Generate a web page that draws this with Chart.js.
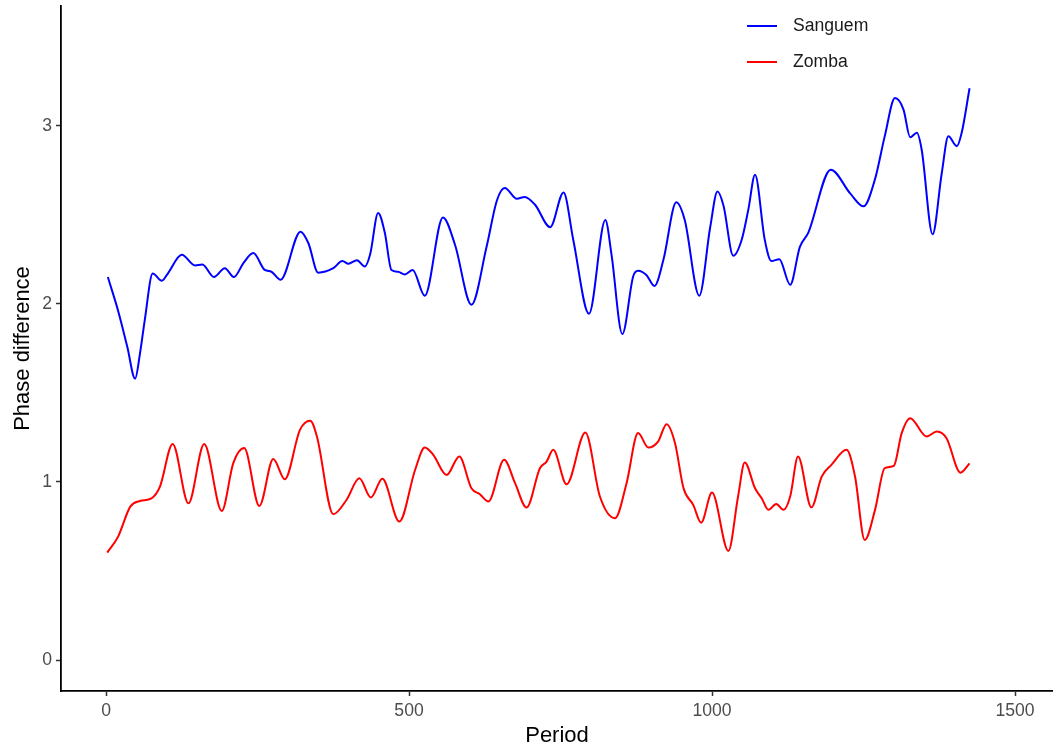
<!DOCTYPE html>
<html>
<head>
<meta charset="utf-8">
<script src="https://cdn.jsdelivr.net/npm/chart.js@4"></script>
<style>
  body { margin: 0; background: #fff; }
  #wrap { width: 1053px; height: 751px; position: relative; }
</style>
</head>
<body>
<div id="wrap"><canvas id="chart"></canvas></div>
<script>
// Series
const sanguemX = [3, 20, 35, 48, 56, 64, 77, 92, 102, 125, 147, 159, 178, 196, 211, 227, 243, 262, 273, 288,
    321, 334, 350, 375, 390, 400, 414, 427, 436, 449, 460, 471, 482, 493, 506, 526, 556, 576, 603, 628,
    645, 658, 678, 691, 708, 733, 755, 771, 797, 824, 834, 852, 870, 878, 892, 905, 920, 941, 955, 979,
    997, 1009, 1019, 1035, 1049, 1060, 1071, 1087, 1098, 1111, 1129, 1145, 1159, 1196, 1228, 1250, 1269, 1285, 1302, 1316,
    1327, 1338, 1346, 1364, 1379, 1390, 1404, 1412, 1425];
const sanguemY = [2.15, 1.96, 1.76, 1.58, 1.72, 1.91, 2.17, 2.13, 2.17, 2.275, 2.215, 2.22, 2.15, 2.20, 2.15, 2.23, 2.285, 2.19, 2.18, 2.135,
    2.405, 2.34, 2.175, 2.20, 2.24, 2.225, 2.245, 2.21, 2.28, 2.51, 2.40, 2.19, 2.18, 2.165, 2.19, 2.045, 2.485, 2.33, 1.995, 2.32,
    2.58, 2.65, 2.59, 2.60, 2.556, 2.43, 2.625, 2.36, 1.944, 2.47, 2.28, 1.83, 2.155, 2.185, 2.16, 2.10, 2.25, 2.57, 2.47, 2.045,
    2.43, 2.63, 2.55, 2.27, 2.36, 2.53, 2.725, 2.36, 2.24, 2.25, 2.107, 2.32, 2.40, 2.753, 2.62, 2.547, 2.70, 2.94, 3.155, 3.09,
    2.935, 2.96, 2.865, 2.39, 2.73, 2.94, 2.885, 2.96, 3.21];

const zombaX = [2, 20, 40, 56, 75, 89, 110, 136, 162, 191, 210, 228, 253, 276, 295, 320, 337, 348, 375, 397,
    418, 437, 456, 484, 510, 526, 540, 562, 583, 603, 617, 631, 657, 675, 694, 716, 727, 738, 760, 791,
    815, 840, 859, 878, 895, 911, 925, 939, 953, 969, 982, 1000, 1027, 1043, 1054, 1071, 1082, 1093, 1106, 1118,
    1129, 1142, 1164, 1181, 1197, 1222, 1236, 1252, 1269, 1285, 1300, 1313, 1327, 1354, 1371, 1387, 1410, 1425];
const zombaY = [0.603, 0.693, 0.861, 0.893, 0.908, 0.974, 1.213, 0.88, 1.213, 0.837, 1.105, 1.19, 0.865, 1.129, 1.015, 1.292, 1.343, 1.255, 0.819, 0.90,
    1.02, 0.912, 1.017, 0.777, 1.067, 1.193, 1.152, 1.039, 1.142, 0.964, 0.931, 0.89, 1.124, 0.993, 0.856, 1.077, 1.114, 1.18, 0.987, 1.277,
    0.918, 0.796, 0.993, 1.274, 1.193, 1.226, 1.324, 1.217, 0.964, 0.871, 0.771, 0.94, 0.612, 0.918, 1.109, 0.964, 0.908, 0.843, 0.876, 0.843,
    0.918, 1.142, 0.857, 1.03, 1.096, 1.18, 1.03, 0.674, 0.843, 1.077, 1.09, 1.274, 1.358, 1.255, 1.283, 1.245, 1.052, 1.104];

const seriesNames = ['Sanguem', 'Zomba'];
const xTickValues = [0, 500, 1000, 1500];
const yTickValues = [0, 1, 2, 3];

const FONT = '"Liberation Sans", Arial, sans-serif';

function toPoints(xs, ys) {
    return xs.map((x, i) => ({ x: x, y: ys[i] }));
}

// ggplot-style legend drawn in the top right of the panel
const legendPlugin = {
    id: 'ggLegend',
    afterDraw(chart) {
        const ctx = chart.ctx;
        ctx.save();
        ctx.font = '17.6px ' + FONT;
        ctx.textBaseline = 'middle';
        ctx.textAlign = 'left';
        chart.data.datasets.forEach((ds, i) => {
            const y = 26 + i * 36;
            ctx.strokeStyle = ds.borderColor;
            ctx.lineWidth = 2;
            ctx.beginPath();
            ctx.moveTo(747, y);
            ctx.lineTo(777, y);
            ctx.stroke();
            ctx.fillStyle = '#1a1a1a';
            ctx.fillText(ds.label, 793, y);
        });
        ctx.restore();
    }
};

new Chart(document.getElementById('chart'), {
    type: 'line',
    data: {
        datasets: [
            {
                label: seriesNames[0],
                data: toPoints(sanguemX, sanguemY),
                borderColor: '#0000FF',
                borderWidth: 2,
                pointRadius: 0,
                fill: false,
                cubicInterpolationMode: 'monotone'
            },
            {
                label: seriesNames[1],
                data: toPoints(zombaX, zombaY),
                borderColor: '#FF0000',
                borderWidth: 2,
                pointRadius: 0,
                fill: false,
                cubicInterpolationMode: 'monotone'
            }
        ]
    },
    options: {
        responsive: true,
        maintainAspectRatio: false,
        animation: false,
        devicePixelRatio: 1,
        layout: { padding: { top: 6, right: 0, left: 0, bottom: 0 } },
        plugins: {
            legend: { display: false },
            tooltip: { enabled: false }
        },
        scales: {
            x: {
                type: 'linear',
                min: -74.3,
                max: 1562.7,
                afterBuildTicks: s => { s.ticks = xTickValues.map(v => ({ value: v })); },
                afterFit: s => { s.height = 60; s.paddingLeft = 0; s.paddingRight = 0; },
                grid: { display: true, drawOnChartArea: false, drawTicks: true, tickLength: 5, tickColor: '#333', tickWidth: 1.5 },
                border: { display: true, color: '#000', width: 1.8 },
                ticks: { color: '#4D4D4D', padding: 5, font: { family: FONT, size: 17.6 }, maxRotation: 0, callback: v => String(v) },
                title: { display: true, text: 'Period', color: '#000', font: { family: FONT, size: 22 }, padding: { top: 0, bottom: 2 } }
            },
            y: {
                type: 'linear',
                min: -0.174,
                max: 3.672,
                afterBuildTicks: s => { s.ticks = yTickValues.map(v => ({ value: v })); },
                afterFit: s => { s.width = 61; s.paddingTop = 0; s.paddingBottom = 0; },
                grid: { display: true, drawOnChartArea: false, drawTicks: true, tickLength: 5, tickColor: '#333', tickWidth: 1.5 },
                border: { display: true, color: '#000', width: 1.8 },
                ticks: { color: '#4D4D4D', padding: 4, font: { family: FONT, size: 17.6 }, callback: v => String(v) },
                title: { display: true, text: 'Phase difference', color: '#000', font: { family: FONT, size: 22 }, padding: { top: 10, bottom: 0 } }
            }
        }
    },
    plugins: [legendPlugin]
});
</script>
</body>
</html>
